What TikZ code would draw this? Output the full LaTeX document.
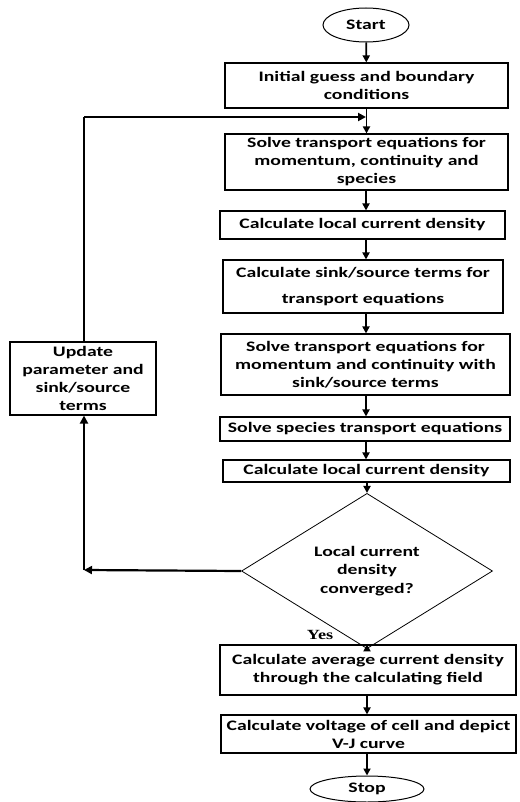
\documentclass[tikz,border=0pt]{standalone}
\usepackage{fontspec}
\setmainfont{Carlito}[FakeStretch=1.36]
\newfontfamily\yesfont{Liberation Serif}[FakeStretch=1.3]
\usetikzlibrary{shapes.geometric,arrows.meta}
\tikzset{
  box/.style={draw=black, line width=1.1pt, rectangle, inner sep=0pt, align=center,
    font=\fontsize{14.5}{18}\selectfont\bfseries},
  term/.style={draw=black, line width=1pt, ellipse, inner sep=0pt, align=center,
    font=\fontsize{14.5}{18}\selectfont\bfseries},
  decision/.style={draw=black, line width=0.8pt, diamond, inner sep=0pt, align=center,
    font=\fontsize{14.5}{18.5}\selectfont\bfseries},
  flow/.style={line width=1.8pt, -{Triangle[width=7pt,length=7pt]}},
  back/.style={line width=2.2pt},
  backarrow/.style={line width=2.2pt, -{Triangle[width=8pt,length=8pt]}},
}
\begin{document}
\begin{tikzpicture}[x=1pt,y=-1pt]
\useasboundingbox (0,0) rectangle (519,802);
\node[term, minimum width=86pt, minimum height=34pt] (start) at (366,25) {Start};
\node[box, minimum width=283pt, minimum height=45pt] (b1) at (366.5,85.5) {Initial guess and boundary\\conditions};
\node[box, minimum width=283pt, minimum height=56pt] (b2) at (366.5,162) {Solve transport equations for\\momentum, continuity and\\species};
\node[box, minimum width=285pt, minimum height=28pt] (b3) at (362.5,225) {Calculate local current density};
\node[box, minimum width=280pt, minimum height=53pt] (b4) at (363,286.5) {Calculate sink/source terms for\\[8pt]transport equations};
\node[box, minimum width=289pt, minimum height=61pt] (b5) at (365.5,364.5) {Solve transport equations for\\momentum and continuity with\\sink/source terms};
\node[box, minimum width=290pt, minimum height=24pt] (b6) at (365,429) {Solve species transport equations};
\node[box, minimum width=287pt, minimum height=22pt] (b7) at (366.5,471) {Calculate local current density};
\node[decision, minimum width=251pt, minimum height=108pt] (d) at (367,571) {Local current\\density\\converged?};
\node[box, minimum width=296pt, minimum height=50pt] (b8) at (368,670) {Calculate average current density\\through the calculating field};
\node[box, minimum width=295pt, minimum height=38pt] (b9) at (368.5,734) {Calculate voltage of cell and depict\\V-J curve};
\node[term, minimum width=114pt, minimum height=26pt] (stop) at (367,789) {Stop};
\node[box, minimum width=146pt, minimum height=73pt] (upd) at (83,378.5) {Update\\parameter and\\sink/source\\terms};
\node[font=\fontsize{14}{16}\selectfont\yesfont\bfseries] (yes) at (320,635) {Yes};
\coordinate (c1) at (84,570);
\coordinate (c2) at (84,117);
\coordinate (c3) at (366,117);
\draw[flow] (start) -- (b1);
\draw[flow] (b1.south -| b2.north) -- (b2.north);
\draw[flow] (b2.south -| 366,0) -- (366,0 |- b3.north);
\draw[flow] (b3.south -| 366,0) -- (366,0 |- b4.north);
\draw[flow] (b4.south -| 366,0) -- (366,0 |- b5.north);
\draw[flow] (b5.south -| 366,0) -- (366,0 |- b6.north);
\draw[flow] (b6.south -| 366,0) -- (366,0 |- b7.north);
\draw[flow] (b7.south -| 367,0) -- (d.north);
\draw[flow] (d.south) -- (d.south |- b8.north);
\draw[flow] (b8.south -| 367,0) -- (367,0 |- b9.north);
\draw[flow] (b9.south -| 367,0) -- (stop.north);
\draw[backarrow] (d.west) -- (c1);
\draw[backarrow] (c1) -- (upd.south -| c1);
\draw[back] (upd.north -| c2) -- (c2);
\draw[backarrow] (c2) -- (c3);
\end{tikzpicture}
\end{document}
